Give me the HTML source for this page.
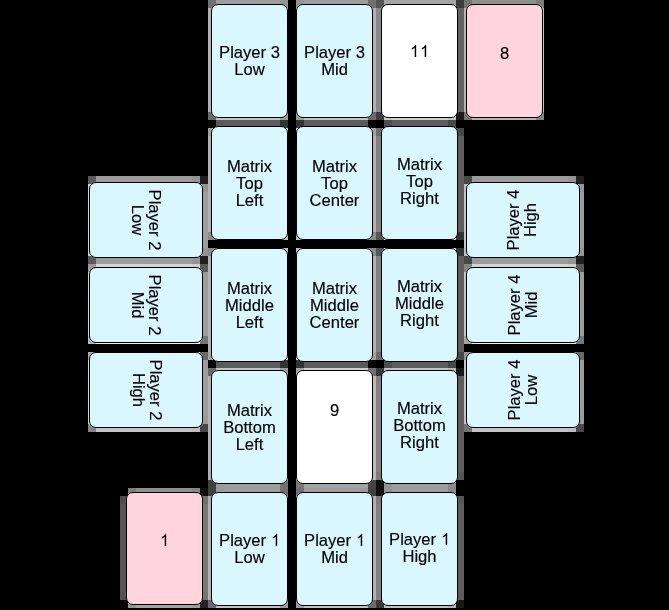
<!DOCTYPE html><html><head><meta charset="utf-8"><style>
html,body{margin:0;padding:0;background:#000;width:669px;height:610px;overflow:hidden;position:relative}
.c{position:absolute;box-sizing:border-box;border:1px solid #000;border-radius:7px;display:flex;align-items:center;justify-content:center;text-align:center;font-family:"Liberation Sans",sans-serif;font-size:16.6px;line-height:17px;color:#000;-webkit-text-stroke:0.15px #000;will-change:transform}
.bg{position:absolute;left:0;top:0}
.one{width:9.23px;height:12px;vertical-align:baseline;fill:#000}
</style></head><body><svg class="bg" width="669" height="610" shape-rendering="crispEdges"><rect x="208" y="0" width="8" height="8" fill="#717171"/><rect x="216" y="0" width="64" height="8" fill="#9c9c9c"/><rect x="280" y="0" width="8" height="8" fill="#939393"/><rect x="296" y="0" width="8" height="8" fill="#939393"/><rect x="304" y="0" width="64" height="8" fill="#9c9c9c"/><rect x="368" y="0" width="8" height="8" fill="#717171"/><rect x="376" y="0" width="8" height="8" fill="#565656"/><rect x="384" y="0" width="72" height="8" fill="#a5a5a5"/><rect x="456" y="0" width="8" height="8" fill="#3d3d3d"/><rect x="464" y="0" width="8" height="8" fill="#737373"/><rect x="472" y="0" width="64" height="8" fill="#8f8f8f"/><rect x="536" y="0" width="8" height="8" fill="#7e7e7e"/><rect x="208" y="8" width="8" height="8" fill="#b2b2b2"/><rect x="216" y="8" width="64" height="8" fill="#f2f2f2"/><rect x="280" y="8" width="8" height="8" fill="#e4e4e4"/><rect x="296" y="8" width="8" height="8" fill="#e4e4e4"/><rect x="304" y="8" width="64" height="8" fill="#f2f2f2"/><rect x="368" y="8" width="8" height="8" fill="#b2b2b2"/><rect x="376" y="8" width="8" height="8" fill="#898989"/><rect x="384" y="8" width="72" height="8" fill="#ffffff"/><rect x="456" y="8" width="8" height="8" fill="#636363"/><rect x="464" y="8" width="8" height="8" fill="#b5b5b5"/><rect x="472" y="8" width="64" height="8" fill="#dfdfdf"/><rect x="536" y="8" width="8" height="8" fill="#c4c4c4"/><rect x="208" y="16" width="8" height="8" fill="#b2b2b2"/><rect x="216" y="16" width="64" height="8" fill="#f2f2f2"/><rect x="280" y="16" width="8" height="8" fill="#e4e4e4"/><rect x="296" y="16" width="8" height="8" fill="#e4e4e4"/><rect x="304" y="16" width="64" height="8" fill="#f2f2f2"/><rect x="368" y="16" width="8" height="8" fill="#b2b2b2"/><rect x="376" y="16" width="8" height="8" fill="#898989"/><rect x="384" y="16" width="72" height="8" fill="#ffffff"/><rect x="456" y="16" width="8" height="8" fill="#636363"/><rect x="464" y="16" width="8" height="8" fill="#b5b5b5"/><rect x="472" y="16" width="64" height="8" fill="#dfdfdf"/><rect x="536" y="16" width="8" height="8" fill="#c4c4c4"/><rect x="208" y="24" width="8" height="8" fill="#b2b2b2"/><rect x="216" y="24" width="64" height="8" fill="#f2f2f2"/><rect x="280" y="24" width="8" height="8" fill="#e4e4e4"/><rect x="296" y="24" width="8" height="8" fill="#e4e4e4"/><rect x="304" y="24" width="64" height="8" fill="#f2f2f2"/><rect x="368" y="24" width="8" height="8" fill="#b2b2b2"/><rect x="376" y="24" width="8" height="8" fill="#898989"/><rect x="384" y="24" width="72" height="8" fill="#ffffff"/><rect x="456" y="24" width="8" height="8" fill="#636363"/><rect x="464" y="24" width="8" height="8" fill="#b5b5b5"/><rect x="472" y="24" width="64" height="8" fill="#dfdfdf"/><rect x="536" y="24" width="8" height="8" fill="#c4c4c4"/><rect x="208" y="32" width="8" height="8" fill="#b2b2b2"/><rect x="216" y="32" width="64" height="8" fill="#f2f2f2"/><rect x="280" y="32" width="8" height="8" fill="#e4e4e4"/><rect x="296" y="32" width="8" height="8" fill="#e4e4e4"/><rect x="304" y="32" width="64" height="8" fill="#f2f2f2"/><rect x="368" y="32" width="8" height="8" fill="#b2b2b2"/><rect x="376" y="32" width="8" height="8" fill="#898989"/><rect x="384" y="32" width="72" height="8" fill="#ffffff"/><rect x="456" y="32" width="8" height="8" fill="#636363"/><rect x="464" y="32" width="8" height="8" fill="#b5b5b5"/><rect x="472" y="32" width="64" height="8" fill="#dfdfdf"/><rect x="536" y="32" width="8" height="8" fill="#c4c4c4"/><rect x="208" y="40" width="8" height="8" fill="#b2b2b2"/><rect x="216" y="40" width="64" height="8" fill="#f2f2f2"/><rect x="280" y="40" width="8" height="8" fill="#e4e4e4"/><rect x="296" y="40" width="8" height="8" fill="#e4e4e4"/><rect x="304" y="40" width="64" height="8" fill="#f2f2f2"/><rect x="368" y="40" width="8" height="8" fill="#b2b2b2"/><rect x="376" y="40" width="8" height="8" fill="#898989"/><rect x="384" y="40" width="72" height="8" fill="#ffffff"/><rect x="456" y="40" width="8" height="8" fill="#636363"/><rect x="464" y="40" width="8" height="8" fill="#b5b5b5"/><rect x="472" y="40" width="64" height="8" fill="#dfdfdf"/><rect x="536" y="40" width="8" height="8" fill="#c4c4c4"/><rect x="208" y="48" width="8" height="8" fill="#b2b2b2"/><rect x="216" y="48" width="64" height="8" fill="#f2f2f2"/><rect x="280" y="48" width="8" height="8" fill="#e4e4e4"/><rect x="296" y="48" width="8" height="8" fill="#e4e4e4"/><rect x="304" y="48" width="64" height="8" fill="#f2f2f2"/><rect x="368" y="48" width="8" height="8" fill="#b2b2b2"/><rect x="376" y="48" width="8" height="8" fill="#898989"/><rect x="384" y="48" width="72" height="8" fill="#ffffff"/><rect x="456" y="48" width="8" height="8" fill="#636363"/><rect x="464" y="48" width="8" height="8" fill="#b5b5b5"/><rect x="472" y="48" width="64" height="8" fill="#dfdfdf"/><rect x="536" y="48" width="8" height="8" fill="#c4c4c4"/><rect x="208" y="56" width="8" height="8" fill="#b2b2b2"/><rect x="216" y="56" width="64" height="8" fill="#f2f2f2"/><rect x="280" y="56" width="8" height="8" fill="#e4e4e4"/><rect x="296" y="56" width="8" height="8" fill="#e4e4e4"/><rect x="304" y="56" width="64" height="8" fill="#f2f2f2"/><rect x="368" y="56" width="8" height="8" fill="#b2b2b2"/><rect x="376" y="56" width="8" height="8" fill="#898989"/><rect x="384" y="56" width="72" height="8" fill="#ffffff"/><rect x="456" y="56" width="8" height="8" fill="#636363"/><rect x="464" y="56" width="8" height="8" fill="#b5b5b5"/><rect x="472" y="56" width="64" height="8" fill="#dfdfdf"/><rect x="536" y="56" width="8" height="8" fill="#c4c4c4"/><rect x="208" y="64" width="8" height="8" fill="#b2b2b2"/><rect x="216" y="64" width="64" height="8" fill="#f2f2f2"/><rect x="280" y="64" width="8" height="8" fill="#e4e4e4"/><rect x="296" y="64" width="8" height="8" fill="#e4e4e4"/><rect x="304" y="64" width="64" height="8" fill="#f2f2f2"/><rect x="368" y="64" width="8" height="8" fill="#b2b2b2"/><rect x="376" y="64" width="8" height="8" fill="#898989"/><rect x="384" y="64" width="72" height="8" fill="#ffffff"/><rect x="456" y="64" width="8" height="8" fill="#636363"/><rect x="464" y="64" width="8" height="8" fill="#b5b5b5"/><rect x="472" y="64" width="64" height="8" fill="#dfdfdf"/><rect x="536" y="64" width="8" height="8" fill="#c4c4c4"/><rect x="208" y="72" width="8" height="8" fill="#b2b2b2"/><rect x="216" y="72" width="64" height="8" fill="#f2f2f2"/><rect x="280" y="72" width="8" height="8" fill="#e4e4e4"/><rect x="296" y="72" width="8" height="8" fill="#e4e4e4"/><rect x="304" y="72" width="64" height="8" fill="#f2f2f2"/><rect x="368" y="72" width="8" height="8" fill="#b2b2b2"/><rect x="376" y="72" width="8" height="8" fill="#898989"/><rect x="384" y="72" width="72" height="8" fill="#ffffff"/><rect x="456" y="72" width="8" height="8" fill="#636363"/><rect x="464" y="72" width="8" height="8" fill="#b5b5b5"/><rect x="472" y="72" width="64" height="8" fill="#dfdfdf"/><rect x="536" y="72" width="8" height="8" fill="#c4c4c4"/><rect x="208" y="80" width="8" height="8" fill="#b2b2b2"/><rect x="216" y="80" width="64" height="8" fill="#f2f2f2"/><rect x="280" y="80" width="8" height="8" fill="#e4e4e4"/><rect x="296" y="80" width="8" height="8" fill="#e4e4e4"/><rect x="304" y="80" width="64" height="8" fill="#f2f2f2"/><rect x="368" y="80" width="8" height="8" fill="#b2b2b2"/><rect x="376" y="80" width="8" height="8" fill="#898989"/><rect x="384" y="80" width="72" height="8" fill="#ffffff"/><rect x="456" y="80" width="8" height="8" fill="#636363"/><rect x="464" y="80" width="8" height="8" fill="#b5b5b5"/><rect x="472" y="80" width="64" height="8" fill="#dfdfdf"/><rect x="536" y="80" width="8" height="8" fill="#c4c4c4"/><rect x="208" y="88" width="8" height="8" fill="#b2b2b2"/><rect x="216" y="88" width="64" height="8" fill="#f2f2f2"/><rect x="280" y="88" width="8" height="8" fill="#e4e4e4"/><rect x="296" y="88" width="8" height="8" fill="#e4e4e4"/><rect x="304" y="88" width="64" height="8" fill="#f2f2f2"/><rect x="368" y="88" width="8" height="8" fill="#b2b2b2"/><rect x="376" y="88" width="8" height="8" fill="#898989"/><rect x="384" y="88" width="72" height="8" fill="#ffffff"/><rect x="456" y="88" width="8" height="8" fill="#636363"/><rect x="464" y="88" width="8" height="8" fill="#b5b5b5"/><rect x="472" y="88" width="64" height="8" fill="#dfdfdf"/><rect x="536" y="88" width="8" height="8" fill="#c4c4c4"/><rect x="208" y="96" width="8" height="8" fill="#b2b2b2"/><rect x="216" y="96" width="64" height="8" fill="#f2f2f2"/><rect x="280" y="96" width="8" height="8" fill="#e4e4e4"/><rect x="296" y="96" width="8" height="8" fill="#e4e4e4"/><rect x="304" y="96" width="64" height="8" fill="#f2f2f2"/><rect x="368" y="96" width="8" height="8" fill="#b2b2b2"/><rect x="376" y="96" width="8" height="8" fill="#898989"/><rect x="384" y="96" width="72" height="8" fill="#ffffff"/><rect x="456" y="96" width="8" height="8" fill="#636363"/><rect x="464" y="96" width="8" height="8" fill="#b5b5b5"/><rect x="472" y="96" width="64" height="8" fill="#dfdfdf"/><rect x="536" y="96" width="8" height="8" fill="#c4c4c4"/><rect x="208" y="104" width="8" height="8" fill="#b1b1b1"/><rect x="216" y="104" width="64" height="8" fill="#f2f2f2"/><rect x="280" y="104" width="8" height="8" fill="#e4e4e4"/><rect x="296" y="104" width="8" height="8" fill="#e4e4e4"/><rect x="304" y="104" width="64" height="8" fill="#f2f2f2"/><rect x="368" y="104" width="8" height="8" fill="#b1b1b1"/><rect x="376" y="104" width="8" height="8" fill="#888888"/><rect x="384" y="104" width="72" height="8" fill="#ffffff"/><rect x="456" y="104" width="8" height="8" fill="#626262"/><rect x="464" y="104" width="8" height="8" fill="#b4b4b4"/><rect x="472" y="104" width="64" height="8" fill="#dfdfdf"/><rect x="536" y="104" width="8" height="8" fill="#c4c4c4"/><rect x="208" y="112" width="8" height="8" fill="#6a6a6a"/><rect x="216" y="112" width="8" height="8" fill="#c3c3c3"/><rect x="224" y="112" width="56" height="8" fill="#c4c4c4"/><rect x="280" y="112" width="8" height="8" fill="#9e9e9e"/><rect x="296" y="112" width="8" height="8" fill="#9e9e9e"/><rect x="304" y="112" width="56" height="8" fill="#c4c4c4"/><rect x="360" y="112" width="8" height="8" fill="#c3c3c3"/><rect x="368" y="112" width="8" height="8" fill="#6a6a6a"/><rect x="376" y="112" width="8" height="8" fill="#3d3d3d"/><rect x="384" y="112" width="8" height="8" fill="#c8c8c8"/><rect x="392" y="112" width="56" height="8" fill="#cfcfcf"/><rect x="448" y="112" width="8" height="8" fill="#c1c1c1"/><rect x="456" y="112" width="8" height="8" fill="#1b1b1b"/><rect x="464" y="112" width="8" height="8" fill="#737373"/><rect x="472" y="112" width="8" height="8" fill="#b4b4b4"/><rect x="480" y="112" width="56" height="8" fill="#b5b5b5"/><rect x="536" y="112" width="8" height="8" fill="#838383"/><rect x="208" y="120" width="8" height="8" fill="#060606"/><rect x="216" y="120" width="8" height="8" fill="#5a5a5a"/><rect x="224" y="120" width="56" height="8" fill="#5e5e5e"/><rect x="280" y="120" width="8" height="8" fill="#343434"/><rect x="296" y="120" width="8" height="8" fill="#343434"/><rect x="304" y="120" width="56" height="8" fill="#5e5e5e"/><rect x="360" y="120" width="8" height="8" fill="#5a5a5a"/><rect x="368" y="120" width="8" height="8" fill="#060606"/><rect x="384" y="120" width="8" height="8" fill="#4e4e4e"/><rect x="392" y="120" width="56" height="8" fill="#5e5e5e"/><rect x="448" y="120" width="8" height="8" fill="#474747"/><rect x="208" y="128" width="8" height="8" fill="#a2a2a2"/><rect x="216" y="128" width="64" height="8" fill="#f2f2f2"/><rect x="280" y="128" width="8" height="8" fill="#d9d9d9"/><rect x="296" y="128" width="8" height="8" fill="#d9d9d9"/><rect x="304" y="128" width="64" height="8" fill="#f2f2f2"/><rect x="368" y="128" width="8" height="8" fill="#a2a2a2"/><rect x="376" y="128" width="8" height="8" fill="#6c6c6c"/><rect x="384" y="128" width="8" height="8" fill="#f1f1f1"/><rect x="392" y="128" width="56" height="8" fill="#f2f2f2"/><rect x="448" y="128" width="8" height="8" fill="#eeeeee"/><rect x="456" y="128" width="8" height="8" fill="#474747"/><rect x="208" y="136" width="8" height="8" fill="#b2b2b2"/><rect x="216" y="136" width="64" height="8" fill="#f2f2f2"/><rect x="280" y="136" width="8" height="8" fill="#e4e4e4"/><rect x="296" y="136" width="8" height="8" fill="#e4e4e4"/><rect x="304" y="136" width="64" height="8" fill="#f2f2f2"/><rect x="368" y="136" width="8" height="8" fill="#b2b2b2"/><rect x="376" y="136" width="8" height="8" fill="#828282"/><rect x="384" y="136" width="72" height="8" fill="#f2f2f2"/><rect x="456" y="136" width="8" height="8" fill="#5e5e5e"/><rect x="208" y="144" width="8" height="8" fill="#b2b2b2"/><rect x="216" y="144" width="64" height="8" fill="#f2f2f2"/><rect x="280" y="144" width="8" height="8" fill="#e4e4e4"/><rect x="296" y="144" width="8" height="8" fill="#e4e4e4"/><rect x="304" y="144" width="64" height="8" fill="#f2f2f2"/><rect x="368" y="144" width="8" height="8" fill="#b2b2b2"/><rect x="376" y="144" width="8" height="8" fill="#828282"/><rect x="384" y="144" width="72" height="8" fill="#f2f2f2"/><rect x="456" y="144" width="8" height="8" fill="#5e5e5e"/><rect x="208" y="152" width="8" height="8" fill="#b2b2b2"/><rect x="216" y="152" width="64" height="8" fill="#f2f2f2"/><rect x="280" y="152" width="8" height="8" fill="#e4e4e4"/><rect x="296" y="152" width="8" height="8" fill="#e4e4e4"/><rect x="304" y="152" width="64" height="8" fill="#f2f2f2"/><rect x="368" y="152" width="8" height="8" fill="#b2b2b2"/><rect x="376" y="152" width="8" height="8" fill="#828282"/><rect x="384" y="152" width="72" height="8" fill="#f2f2f2"/><rect x="456" y="152" width="8" height="8" fill="#5e5e5e"/><rect x="208" y="160" width="8" height="8" fill="#b2b2b2"/><rect x="216" y="160" width="64" height="8" fill="#f2f2f2"/><rect x="280" y="160" width="8" height="8" fill="#e4e4e4"/><rect x="296" y="160" width="8" height="8" fill="#e4e4e4"/><rect x="304" y="160" width="64" height="8" fill="#f2f2f2"/><rect x="368" y="160" width="8" height="8" fill="#b2b2b2"/><rect x="376" y="160" width="8" height="8" fill="#828282"/><rect x="384" y="160" width="72" height="8" fill="#f2f2f2"/><rect x="456" y="160" width="8" height="8" fill="#5e5e5e"/><rect x="208" y="168" width="8" height="8" fill="#b2b2b2"/><rect x="216" y="168" width="64" height="8" fill="#f2f2f2"/><rect x="280" y="168" width="8" height="8" fill="#e4e4e4"/><rect x="296" y="168" width="8" height="8" fill="#e4e4e4"/><rect x="304" y="168" width="64" height="8" fill="#f2f2f2"/><rect x="368" y="168" width="8" height="8" fill="#b2b2b2"/><rect x="376" y="168" width="8" height="8" fill="#828282"/><rect x="384" y="168" width="72" height="8" fill="#f2f2f2"/><rect x="456" y="168" width="8" height="8" fill="#5e5e5e"/><rect x="88" y="176" width="8" height="8" fill="#5a5a5a"/><rect x="96" y="176" width="96" height="8" fill="#9c9c9c"/><rect x="192" y="176" width="8" height="8" fill="#949494"/><rect x="200" y="176" width="8" height="8" fill="#1e1e1e"/><rect x="208" y="176" width="8" height="8" fill="#b2b2b2"/><rect x="216" y="176" width="64" height="8" fill="#f2f2f2"/><rect x="280" y="176" width="8" height="8" fill="#e4e4e4"/><rect x="296" y="176" width="8" height="8" fill="#e4e4e4"/><rect x="304" y="176" width="64" height="8" fill="#f2f2f2"/><rect x="368" y="176" width="8" height="8" fill="#b2b2b2"/><rect x="376" y="176" width="8" height="8" fill="#828282"/><rect x="384" y="176" width="72" height="8" fill="#f2f2f2"/><rect x="456" y="176" width="8" height="8" fill="#5e5e5e"/><rect x="464" y="176" width="8" height="8" fill="#484848"/><rect x="472" y="176" width="8" height="8" fill="#9b9b9b"/><rect x="480" y="176" width="88" height="8" fill="#9c9c9c"/><rect x="568" y="176" width="8" height="8" fill="#949494"/><rect x="576" y="176" width="8" height="8" fill="#1e1e1e"/><rect x="88" y="184" width="8" height="8" fill="#cfcfcf"/><rect x="96" y="184" width="104" height="8" fill="#f2f2f2"/><rect x="200" y="184" width="8" height="8" fill="#949494"/><rect x="208" y="184" width="8" height="8" fill="#b2b2b2"/><rect x="216" y="184" width="64" height="8" fill="#f2f2f2"/><rect x="280" y="184" width="8" height="8" fill="#e4e4e4"/><rect x="296" y="184" width="8" height="8" fill="#e4e4e4"/><rect x="304" y="184" width="64" height="8" fill="#f2f2f2"/><rect x="368" y="184" width="8" height="8" fill="#b2b2b2"/><rect x="376" y="184" width="8" height="8" fill="#828282"/><rect x="384" y="184" width="72" height="8" fill="#f2f2f2"/><rect x="456" y="184" width="8" height="8" fill="#5e5e5e"/><rect x="464" y="184" width="8" height="8" fill="#bebebe"/><rect x="472" y="184" width="104" height="8" fill="#f2f2f2"/><rect x="576" y="184" width="8" height="8" fill="#949494"/><rect x="88" y="192" width="8" height="8" fill="#d5d5d5"/><rect x="96" y="192" width="104" height="8" fill="#f2f2f2"/><rect x="200" y="192" width="8" height="8" fill="#9c9c9c"/><rect x="208" y="192" width="8" height="8" fill="#b2b2b2"/><rect x="216" y="192" width="64" height="8" fill="#f2f2f2"/><rect x="280" y="192" width="8" height="8" fill="#e4e4e4"/><rect x="296" y="192" width="8" height="8" fill="#e4e4e4"/><rect x="304" y="192" width="64" height="8" fill="#f2f2f2"/><rect x="368" y="192" width="8" height="8" fill="#b2b2b2"/><rect x="376" y="192" width="8" height="8" fill="#828282"/><rect x="384" y="192" width="72" height="8" fill="#f2f2f2"/><rect x="456" y="192" width="8" height="8" fill="#5e5e5e"/><rect x="464" y="192" width="8" height="8" fill="#c4c4c4"/><rect x="472" y="192" width="104" height="8" fill="#f2f2f2"/><rect x="576" y="192" width="8" height="8" fill="#9c9c9c"/><rect x="88" y="200" width="8" height="8" fill="#d5d5d5"/><rect x="96" y="200" width="104" height="8" fill="#f2f2f2"/><rect x="200" y="200" width="8" height="8" fill="#9c9c9c"/><rect x="208" y="200" width="8" height="8" fill="#b2b2b2"/><rect x="216" y="200" width="64" height="8" fill="#f2f2f2"/><rect x="280" y="200" width="8" height="8" fill="#e4e4e4"/><rect x="296" y="200" width="8" height="8" fill="#e4e4e4"/><rect x="304" y="200" width="64" height="8" fill="#f2f2f2"/><rect x="368" y="200" width="8" height="8" fill="#b2b2b2"/><rect x="376" y="200" width="8" height="8" fill="#828282"/><rect x="384" y="200" width="72" height="8" fill="#f2f2f2"/><rect x="456" y="200" width="8" height="8" fill="#5e5e5e"/><rect x="464" y="200" width="8" height="8" fill="#c4c4c4"/><rect x="472" y="200" width="104" height="8" fill="#f2f2f2"/><rect x="576" y="200" width="8" height="8" fill="#9c9c9c"/><rect x="88" y="208" width="8" height="8" fill="#d5d5d5"/><rect x="96" y="208" width="104" height="8" fill="#f2f2f2"/><rect x="200" y="208" width="8" height="8" fill="#9c9c9c"/><rect x="208" y="208" width="8" height="8" fill="#b2b2b2"/><rect x="216" y="208" width="64" height="8" fill="#f2f2f2"/><rect x="280" y="208" width="8" height="8" fill="#e4e4e4"/><rect x="296" y="208" width="8" height="8" fill="#e4e4e4"/><rect x="304" y="208" width="64" height="8" fill="#f2f2f2"/><rect x="368" y="208" width="8" height="8" fill="#b2b2b2"/><rect x="376" y="208" width="8" height="8" fill="#828282"/><rect x="384" y="208" width="72" height="8" fill="#f2f2f2"/><rect x="456" y="208" width="8" height="8" fill="#5e5e5e"/><rect x="464" y="208" width="8" height="8" fill="#c4c4c4"/><rect x="472" y="208" width="104" height="8" fill="#f2f2f2"/><rect x="576" y="208" width="8" height="8" fill="#9c9c9c"/><rect x="88" y="216" width="8" height="8" fill="#d5d5d5"/><rect x="96" y="216" width="104" height="8" fill="#f2f2f2"/><rect x="200" y="216" width="8" height="8" fill="#9c9c9c"/><rect x="208" y="216" width="8" height="8" fill="#b2b2b2"/><rect x="216" y="216" width="64" height="8" fill="#f2f2f2"/><rect x="280" y="216" width="8" height="8" fill="#e4e4e4"/><rect x="296" y="216" width="8" height="8" fill="#e4e4e4"/><rect x="304" y="216" width="64" height="8" fill="#f2f2f2"/><rect x="368" y="216" width="8" height="8" fill="#b2b2b2"/><rect x="376" y="216" width="8" height="8" fill="#828282"/><rect x="384" y="216" width="72" height="8" fill="#f2f2f2"/><rect x="456" y="216" width="8" height="8" fill="#5e5e5e"/><rect x="464" y="216" width="8" height="8" fill="#c4c4c4"/><rect x="472" y="216" width="104" height="8" fill="#f2f2f2"/><rect x="576" y="216" width="8" height="8" fill="#9c9c9c"/><rect x="88" y="224" width="8" height="8" fill="#d5d5d5"/><rect x="96" y="224" width="104" height="8" fill="#f2f2f2"/><rect x="200" y="224" width="8" height="8" fill="#9c9c9c"/><rect x="208" y="224" width="8" height="8" fill="#b2b2b2"/><rect x="216" y="224" width="64" height="8" fill="#f2f2f2"/><rect x="280" y="224" width="8" height="8" fill="#e4e4e4"/><rect x="296" y="224" width="8" height="8" fill="#e4e4e4"/><rect x="304" y="224" width="64" height="8" fill="#f2f2f2"/><rect x="368" y="224" width="8" height="8" fill="#b2b2b2"/><rect x="376" y="224" width="8" height="8" fill="#828282"/><rect x="384" y="224" width="72" height="8" fill="#f2f2f2"/><rect x="456" y="224" width="8" height="8" fill="#5e5e5e"/><rect x="464" y="224" width="8" height="8" fill="#c4c4c4"/><rect x="472" y="224" width="104" height="8" fill="#f2f2f2"/><rect x="576" y="224" width="8" height="8" fill="#9c9c9c"/><rect x="88" y="232" width="8" height="8" fill="#d5d5d5"/><rect x="96" y="232" width="104" height="8" fill="#f2f2f2"/><rect x="200" y="232" width="8" height="8" fill="#9c9c9c"/><rect x="208" y="232" width="8" height="8" fill="#8a8a8a"/><rect x="216" y="232" width="8" height="8" fill="#e3e3e3"/><rect x="224" y="232" width="56" height="8" fill="#e4e4e4"/><rect x="280" y="232" width="8" height="8" fill="#c1c1c1"/><rect x="296" y="232" width="8" height="8" fill="#c1c1c1"/><rect x="304" y="232" width="56" height="8" fill="#e4e4e4"/><rect x="360" y="232" width="8" height="8" fill="#e3e3e3"/><rect x="368" y="232" width="8" height="8" fill="#8a8a8a"/><rect x="376" y="232" width="8" height="8" fill="#575757"/><rect x="384" y="232" width="8" height="8" fill="#dedede"/><rect x="392" y="232" width="56" height="8" fill="#e4e4e4"/><rect x="448" y="232" width="8" height="8" fill="#d9d9d9"/><rect x="456" y="232" width="8" height="8" fill="#343434"/><rect x="464" y="232" width="8" height="8" fill="#c4c4c4"/><rect x="472" y="232" width="104" height="8" fill="#f2f2f2"/><rect x="576" y="232" width="8" height="8" fill="#9c9c9c"/><rect x="88" y="240" width="8" height="8" fill="#d5d5d5"/><rect x="96" y="240" width="104" height="8" fill="#f2f2f2"/><rect x="200" y="240" width="8" height="8" fill="#9c9c9c"/><rect x="464" y="240" width="8" height="8" fill="#c4c4c4"/><rect x="472" y="240" width="104" height="8" fill="#f2f2f2"/><rect x="576" y="240" width="8" height="8" fill="#9c9c9c"/><rect x="88" y="248" width="8" height="8" fill="#cfcfcf"/><rect x="96" y="248" width="104" height="8" fill="#f2f2f2"/><rect x="200" y="248" width="8" height="8" fill="#949494"/><rect x="208" y="248" width="8" height="8" fill="#8a8a8a"/><rect x="216" y="248" width="8" height="8" fill="#e3e3e3"/><rect x="224" y="248" width="56" height="8" fill="#e4e4e4"/><rect x="280" y="248" width="8" height="8" fill="#c1c1c1"/><rect x="296" y="248" width="8" height="8" fill="#c1c1c1"/><rect x="304" y="248" width="56" height="8" fill="#e4e4e4"/><rect x="360" y="248" width="8" height="8" fill="#e3e3e3"/><rect x="368" y="248" width="8" height="8" fill="#8a8a8a"/><rect x="376" y="248" width="8" height="8" fill="#575757"/><rect x="384" y="248" width="8" height="8" fill="#dedede"/><rect x="392" y="248" width="56" height="8" fill="#e4e4e4"/><rect x="448" y="248" width="8" height="8" fill="#d9d9d9"/><rect x="456" y="248" width="8" height="8" fill="#343434"/><rect x="464" y="248" width="8" height="8" fill="#bebebe"/><rect x="472" y="248" width="104" height="8" fill="#f2f2f2"/><rect x="576" y="248" width="8" height="8" fill="#949494"/><rect x="88" y="256" width="8" height="8" fill="#5a5a5a"/><rect x="96" y="256" width="96" height="8" fill="#9c9c9c"/><rect x="192" y="256" width="8" height="8" fill="#949494"/><rect x="200" y="256" width="8" height="8" fill="#1e1e1e"/><rect x="208" y="256" width="8" height="8" fill="#b2b2b2"/><rect x="216" y="256" width="64" height="8" fill="#f2f2f2"/><rect x="280" y="256" width="8" height="8" fill="#e4e4e4"/><rect x="296" y="256" width="8" height="8" fill="#e4e4e4"/><rect x="304" y="256" width="64" height="8" fill="#f2f2f2"/><rect x="368" y="256" width="8" height="8" fill="#b2b2b2"/><rect x="376" y="256" width="8" height="8" fill="#828282"/><rect x="384" y="256" width="72" height="8" fill="#f2f2f2"/><rect x="456" y="256" width="8" height="8" fill="#5e5e5e"/><rect x="464" y="256" width="8" height="8" fill="#484848"/><rect x="472" y="256" width="8" height="8" fill="#9b9b9b"/><rect x="480" y="256" width="88" height="8" fill="#9c9c9c"/><rect x="568" y="256" width="8" height="8" fill="#949494"/><rect x="576" y="256" width="8" height="8" fill="#1e1e1e"/><rect x="88" y="264" width="8" height="8" fill="#989898"/><rect x="96" y="264" width="96" height="8" fill="#d5d5d5"/><rect x="192" y="264" width="8" height="8" fill="#cfcfcf"/><rect x="200" y="264" width="8" height="8" fill="#5a5a5a"/><rect x="208" y="264" width="8" height="8" fill="#b2b2b2"/><rect x="216" y="264" width="64" height="8" fill="#f2f2f2"/><rect x="280" y="264" width="8" height="8" fill="#e4e4e4"/><rect x="296" y="264" width="8" height="8" fill="#e4e4e4"/><rect x="304" y="264" width="64" height="8" fill="#f2f2f2"/><rect x="368" y="264" width="8" height="8" fill="#b2b2b2"/><rect x="376" y="264" width="8" height="8" fill="#828282"/><rect x="384" y="264" width="72" height="8" fill="#f2f2f2"/><rect x="456" y="264" width="8" height="8" fill="#5e5e5e"/><rect x="464" y="264" width="8" height="8" fill="#858585"/><rect x="472" y="264" width="8" height="8" fill="#d4d4d4"/><rect x="480" y="264" width="88" height="8" fill="#d5d5d5"/><rect x="568" y="264" width="8" height="8" fill="#cfcfcf"/><rect x="576" y="264" width="8" height="8" fill="#5a5a5a"/><rect x="88" y="272" width="8" height="8" fill="#d5d5d5"/><rect x="96" y="272" width="104" height="8" fill="#f2f2f2"/><rect x="200" y="272" width="8" height="8" fill="#9c9c9c"/><rect x="208" y="272" width="8" height="8" fill="#b2b2b2"/><rect x="216" y="272" width="64" height="8" fill="#f2f2f2"/><rect x="280" y="272" width="8" height="8" fill="#e4e4e4"/><rect x="296" y="272" width="8" height="8" fill="#e4e4e4"/><rect x="304" y="272" width="64" height="8" fill="#f2f2f2"/><rect x="368" y="272" width="8" height="8" fill="#b2b2b2"/><rect x="376" y="272" width="8" height="8" fill="#828282"/><rect x="384" y="272" width="72" height="8" fill="#f2f2f2"/><rect x="456" y="272" width="8" height="8" fill="#5e5e5e"/><rect x="464" y="272" width="8" height="8" fill="#c4c4c4"/><rect x="472" y="272" width="104" height="8" fill="#f2f2f2"/><rect x="576" y="272" width="8" height="8" fill="#9c9c9c"/><rect x="88" y="280" width="8" height="8" fill="#d5d5d5"/><rect x="96" y="280" width="104" height="8" fill="#f2f2f2"/><rect x="200" y="280" width="8" height="8" fill="#9c9c9c"/><rect x="208" y="280" width="8" height="8" fill="#b2b2b2"/><rect x="216" y="280" width="64" height="8" fill="#f2f2f2"/><rect x="280" y="280" width="8" height="8" fill="#e4e4e4"/><rect x="296" y="280" width="8" height="8" fill="#e4e4e4"/><rect x="304" y="280" width="64" height="8" fill="#f2f2f2"/><rect x="368" y="280" width="8" height="8" fill="#b2b2b2"/><rect x="376" y="280" width="8" height="8" fill="#828282"/><rect x="384" y="280" width="72" height="8" fill="#f2f2f2"/><rect x="456" y="280" width="8" height="8" fill="#5e5e5e"/><rect x="464" y="280" width="8" height="8" fill="#c4c4c4"/><rect x="472" y="280" width="104" height="8" fill="#f2f2f2"/><rect x="576" y="280" width="8" height="8" fill="#9c9c9c"/><rect x="88" y="288" width="8" height="8" fill="#d5d5d5"/><rect x="96" y="288" width="104" height="8" fill="#f2f2f2"/><rect x="200" y="288" width="8" height="8" fill="#9c9c9c"/><rect x="208" y="288" width="8" height="8" fill="#b2b2b2"/><rect x="216" y="288" width="64" height="8" fill="#f2f2f2"/><rect x="280" y="288" width="8" height="8" fill="#e4e4e4"/><rect x="296" y="288" width="8" height="8" fill="#e4e4e4"/><rect x="304" y="288" width="64" height="8" fill="#f2f2f2"/><rect x="368" y="288" width="8" height="8" fill="#b2b2b2"/><rect x="376" y="288" width="8" height="8" fill="#828282"/><rect x="384" y="288" width="72" height="8" fill="#f2f2f2"/><rect x="456" y="288" width="8" height="8" fill="#5e5e5e"/><rect x="464" y="288" width="8" height="8" fill="#c4c4c4"/><rect x="472" y="288" width="104" height="8" fill="#f2f2f2"/><rect x="576" y="288" width="8" height="8" fill="#9c9c9c"/><rect x="88" y="296" width="8" height="8" fill="#d5d5d5"/><rect x="96" y="296" width="104" height="8" fill="#f2f2f2"/><rect x="200" y="296" width="8" height="8" fill="#9c9c9c"/><rect x="208" y="296" width="8" height="8" fill="#b2b2b2"/><rect x="216" y="296" width="64" height="8" fill="#f2f2f2"/><rect x="280" y="296" width="8" height="8" fill="#e4e4e4"/><rect x="296" y="296" width="8" height="8" fill="#e4e4e4"/><rect x="304" y="296" width="64" height="8" fill="#f2f2f2"/><rect x="368" y="296" width="8" height="8" fill="#b2b2b2"/><rect x="376" y="296" width="8" height="8" fill="#828282"/><rect x="384" y="296" width="72" height="8" fill="#f2f2f2"/><rect x="456" y="296" width="8" height="8" fill="#5e5e5e"/><rect x="464" y="296" width="8" height="8" fill="#c4c4c4"/><rect x="472" y="296" width="104" height="8" fill="#f2f2f2"/><rect x="576" y="296" width="8" height="8" fill="#9c9c9c"/><rect x="88" y="304" width="8" height="8" fill="#d5d5d5"/><rect x="96" y="304" width="104" height="8" fill="#f2f2f2"/><rect x="200" y="304" width="8" height="8" fill="#9c9c9c"/><rect x="208" y="304" width="8" height="8" fill="#b2b2b2"/><rect x="216" y="304" width="64" height="8" fill="#f2f2f2"/><rect x="280" y="304" width="8" height="8" fill="#e4e4e4"/><rect x="296" y="304" width="8" height="8" fill="#e4e4e4"/><rect x="304" y="304" width="64" height="8" fill="#f2f2f2"/><rect x="368" y="304" width="8" height="8" fill="#b2b2b2"/><rect x="376" y="304" width="8" height="8" fill="#828282"/><rect x="384" y="304" width="72" height="8" fill="#f2f2f2"/><rect x="456" y="304" width="8" height="8" fill="#5e5e5e"/><rect x="464" y="304" width="8" height="8" fill="#c4c4c4"/><rect x="472" y="304" width="104" height="8" fill="#f2f2f2"/><rect x="576" y="304" width="8" height="8" fill="#9c9c9c"/><rect x="88" y="312" width="8" height="8" fill="#d5d5d5"/><rect x="96" y="312" width="104" height="8" fill="#f2f2f2"/><rect x="200" y="312" width="8" height="8" fill="#9c9c9c"/><rect x="208" y="312" width="8" height="8" fill="#b2b2b2"/><rect x="216" y="312" width="64" height="8" fill="#f2f2f2"/><rect x="280" y="312" width="8" height="8" fill="#e4e4e4"/><rect x="296" y="312" width="8" height="8" fill="#e4e4e4"/><rect x="304" y="312" width="64" height="8" fill="#f2f2f2"/><rect x="368" y="312" width="8" height="8" fill="#b2b2b2"/><rect x="376" y="312" width="8" height="8" fill="#828282"/><rect x="384" y="312" width="72" height="8" fill="#f2f2f2"/><rect x="456" y="312" width="8" height="8" fill="#5e5e5e"/><rect x="464" y="312" width="8" height="8" fill="#c4c4c4"/><rect x="472" y="312" width="104" height="8" fill="#f2f2f2"/><rect x="576" y="312" width="8" height="8" fill="#9c9c9c"/><rect x="88" y="320" width="8" height="8" fill="#d5d5d5"/><rect x="96" y="320" width="104" height="8" fill="#f2f2f2"/><rect x="200" y="320" width="8" height="8" fill="#9c9c9c"/><rect x="208" y="320" width="8" height="8" fill="#b2b2b2"/><rect x="216" y="320" width="64" height="8" fill="#f2f2f2"/><rect x="280" y="320" width="8" height="8" fill="#e4e4e4"/><rect x="296" y="320" width="8" height="8" fill="#e4e4e4"/><rect x="304" y="320" width="64" height="8" fill="#f2f2f2"/><rect x="368" y="320" width="8" height="8" fill="#b2b2b2"/><rect x="376" y="320" width="8" height="8" fill="#828282"/><rect x="384" y="320" width="72" height="8" fill="#f2f2f2"/><rect x="456" y="320" width="8" height="8" fill="#5e5e5e"/><rect x="464" y="320" width="8" height="8" fill="#c4c4c4"/><rect x="472" y="320" width="104" height="8" fill="#f2f2f2"/><rect x="576" y="320" width="8" height="8" fill="#9c9c9c"/><rect x="88" y="328" width="8" height="8" fill="#d5d5d5"/><rect x="96" y="328" width="104" height="8" fill="#f2f2f2"/><rect x="200" y="328" width="8" height="8" fill="#9c9c9c"/><rect x="208" y="328" width="8" height="8" fill="#b2b2b2"/><rect x="216" y="328" width="64" height="8" fill="#f2f2f2"/><rect x="280" y="328" width="8" height="8" fill="#e4e4e4"/><rect x="296" y="328" width="8" height="8" fill="#e4e4e4"/><rect x="304" y="328" width="64" height="8" fill="#f2f2f2"/><rect x="368" y="328" width="8" height="8" fill="#b2b2b2"/><rect x="376" y="328" width="8" height="8" fill="#828282"/><rect x="384" y="328" width="72" height="8" fill="#f2f2f2"/><rect x="456" y="328" width="8" height="8" fill="#5e5e5e"/><rect x="464" y="328" width="8" height="8" fill="#c4c4c4"/><rect x="472" y="328" width="104" height="8" fill="#f2f2f2"/><rect x="576" y="328" width="8" height="8" fill="#9c9c9c"/><rect x="88" y="336" width="8" height="8" fill="#b8b8b8"/><rect x="96" y="336" width="96" height="8" fill="#f2f2f2"/><rect x="192" y="336" width="8" height="8" fill="#ededed"/><rect x="200" y="336" width="8" height="8" fill="#767676"/><rect x="208" y="336" width="8" height="8" fill="#b2b2b2"/><rect x="216" y="336" width="64" height="8" fill="#f2f2f2"/><rect x="280" y="336" width="8" height="8" fill="#e4e4e4"/><rect x="296" y="336" width="8" height="8" fill="#e4e4e4"/><rect x="304" y="336" width="64" height="8" fill="#f2f2f2"/><rect x="368" y="336" width="8" height="8" fill="#b2b2b2"/><rect x="376" y="336" width="8" height="8" fill="#828282"/><rect x="384" y="336" width="72" height="8" fill="#f2f2f2"/><rect x="456" y="336" width="8" height="8" fill="#5e5e5e"/><rect x="464" y="336" width="8" height="8" fill="#a4a4a4"/><rect x="472" y="336" width="8" height="8" fill="#f1f1f1"/><rect x="480" y="336" width="88" height="8" fill="#f2f2f2"/><rect x="568" y="336" width="8" height="8" fill="#ededed"/><rect x="576" y="336" width="8" height="8" fill="#767676"/><rect x="208" y="344" width="8" height="8" fill="#b2b2b2"/><rect x="216" y="344" width="64" height="8" fill="#f2f2f2"/><rect x="280" y="344" width="8" height="8" fill="#e4e4e4"/><rect x="296" y="344" width="8" height="8" fill="#e4e4e4"/><rect x="304" y="344" width="64" height="8" fill="#f2f2f2"/><rect x="368" y="344" width="8" height="8" fill="#b2b2b2"/><rect x="376" y="344" width="8" height="8" fill="#828282"/><rect x="384" y="344" width="72" height="8" fill="#f2f2f2"/><rect x="456" y="344" width="8" height="8" fill="#5e5e5e"/><rect x="88" y="352" width="8" height="8" fill="#a9a9a9"/><rect x="96" y="352" width="96" height="8" fill="#e4e4e4"/><rect x="192" y="352" width="8" height="8" fill="#dfdfdf"/><rect x="200" y="352" width="8" height="8" fill="#696969"/><rect x="208" y="352" width="8" height="8" fill="#a2a2a2"/><rect x="216" y="352" width="64" height="8" fill="#f2f2f2"/><rect x="280" y="352" width="8" height="8" fill="#d9d9d9"/><rect x="296" y="352" width="8" height="8" fill="#d9d9d9"/><rect x="304" y="352" width="64" height="8" fill="#f2f2f2"/><rect x="368" y="352" width="8" height="8" fill="#a2a2a2"/><rect x="376" y="352" width="8" height="8" fill="#6c6c6c"/><rect x="384" y="352" width="8" height="8" fill="#f1f1f1"/><rect x="392" y="352" width="56" height="8" fill="#f2f2f2"/><rect x="448" y="352" width="8" height="8" fill="#eeeeee"/><rect x="456" y="352" width="8" height="8" fill="#474747"/><rect x="464" y="352" width="8" height="8" fill="#969696"/><rect x="472" y="352" width="8" height="8" fill="#e3e3e3"/><rect x="480" y="352" width="88" height="8" fill="#e4e4e4"/><rect x="568" y="352" width="8" height="8" fill="#dfdfdf"/><rect x="576" y="352" width="8" height="8" fill="#696969"/><rect x="88" y="360" width="8" height="8" fill="#d5d5d5"/><rect x="96" y="360" width="104" height="8" fill="#f2f2f2"/><rect x="200" y="360" width="8" height="8" fill="#9c9c9c"/><rect x="208" y="360" width="8" height="8" fill="#060606"/><rect x="216" y="360" width="8" height="8" fill="#5a5a5a"/><rect x="224" y="360" width="56" height="8" fill="#5e5e5e"/><rect x="280" y="360" width="8" height="8" fill="#343434"/><rect x="296" y="360" width="8" height="8" fill="#343434"/><rect x="304" y="360" width="56" height="8" fill="#5e5e5e"/><rect x="360" y="360" width="8" height="8" fill="#5a5a5a"/><rect x="368" y="360" width="8" height="8" fill="#060606"/><rect x="384" y="360" width="8" height="8" fill="#4e4e4e"/><rect x="392" y="360" width="56" height="8" fill="#5e5e5e"/><rect x="448" y="360" width="8" height="8" fill="#474747"/><rect x="464" y="360" width="8" height="8" fill="#c4c4c4"/><rect x="472" y="360" width="104" height="8" fill="#f2f2f2"/><rect x="576" y="360" width="8" height="8" fill="#9c9c9c"/><rect x="88" y="368" width="8" height="8" fill="#d5d5d5"/><rect x="96" y="368" width="104" height="8" fill="#f2f2f2"/><rect x="200" y="368" width="8" height="8" fill="#9c9c9c"/><rect x="208" y="368" width="8" height="8" fill="#6a6a6a"/><rect x="216" y="368" width="8" height="8" fill="#c3c3c3"/><rect x="224" y="368" width="56" height="8" fill="#c4c4c4"/><rect x="280" y="368" width="8" height="8" fill="#9e9e9e"/><rect x="296" y="368" width="8" height="8" fill="#a7a7a7"/><rect x="304" y="368" width="56" height="8" fill="#cfcfcf"/><rect x="360" y="368" width="8" height="8" fill="#cecece"/><rect x="368" y="368" width="8" height="8" fill="#707070"/><rect x="376" y="368" width="8" height="8" fill="#393939"/><rect x="384" y="368" width="8" height="8" fill="#bdbdbd"/><rect x="392" y="368" width="56" height="8" fill="#c4c4c4"/><rect x="448" y="368" width="8" height="8" fill="#b7b7b7"/><rect x="456" y="368" width="8" height="8" fill="#191919"/><rect x="464" y="368" width="8" height="8" fill="#c4c4c4"/><rect x="472" y="368" width="104" height="8" fill="#f2f2f2"/><rect x="576" y="368" width="8" height="8" fill="#9c9c9c"/><rect x="88" y="376" width="8" height="8" fill="#d5d5d5"/><rect x="96" y="376" width="104" height="8" fill="#f2f2f2"/><rect x="200" y="376" width="8" height="8" fill="#9c9c9c"/><rect x="208" y="376" width="8" height="8" fill="#b1b1b1"/><rect x="216" y="376" width="64" height="8" fill="#f2f2f2"/><rect x="280" y="376" width="8" height="8" fill="#e4e4e4"/><rect x="296" y="376" width="8" height="8" fill="#f0f0f0"/><rect x="304" y="376" width="64" height="8" fill="#ffffff"/><rect x="368" y="376" width="8" height="8" fill="#bbbbbb"/><rect x="376" y="376" width="8" height="8" fill="#818181"/><rect x="384" y="376" width="72" height="8" fill="#f2f2f2"/><rect x="456" y="376" width="8" height="8" fill="#5c5c5c"/><rect x="464" y="376" width="8" height="8" fill="#c4c4c4"/><rect x="472" y="376" width="104" height="8" fill="#f2f2f2"/><rect x="576" y="376" width="8" height="8" fill="#9c9c9c"/><rect x="88" y="384" width="8" height="8" fill="#d5d5d5"/><rect x="96" y="384" width="104" height="8" fill="#f2f2f2"/><rect x="200" y="384" width="8" height="8" fill="#9c9c9c"/><rect x="208" y="384" width="8" height="8" fill="#b2b2b2"/><rect x="216" y="384" width="64" height="8" fill="#f2f2f2"/><rect x="280" y="384" width="8" height="8" fill="#e4e4e4"/><rect x="296" y="384" width="8" height="8" fill="#f0f0f0"/><rect x="304" y="384" width="64" height="8" fill="#ffffff"/><rect x="368" y="384" width="8" height="8" fill="#bcbcbc"/><rect x="376" y="384" width="8" height="8" fill="#828282"/><rect x="384" y="384" width="72" height="8" fill="#f2f2f2"/><rect x="456" y="384" width="8" height="8" fill="#5e5e5e"/><rect x="464" y="384" width="8" height="8" fill="#c4c4c4"/><rect x="472" y="384" width="104" height="8" fill="#f2f2f2"/><rect x="576" y="384" width="8" height="8" fill="#9c9c9c"/><rect x="88" y="392" width="8" height="8" fill="#d5d5d5"/><rect x="96" y="392" width="104" height="8" fill="#f2f2f2"/><rect x="200" y="392" width="8" height="8" fill="#9c9c9c"/><rect x="208" y="392" width="8" height="8" fill="#b2b2b2"/><rect x="216" y="392" width="64" height="8" fill="#f2f2f2"/><rect x="280" y="392" width="8" height="8" fill="#e4e4e4"/><rect x="296" y="392" width="8" height="8" fill="#f0f0f0"/><rect x="304" y="392" width="64" height="8" fill="#ffffff"/><rect x="368" y="392" width="8" height="8" fill="#bcbcbc"/><rect x="376" y="392" width="8" height="8" fill="#828282"/><rect x="384" y="392" width="72" height="8" fill="#f2f2f2"/><rect x="456" y="392" width="8" height="8" fill="#5e5e5e"/><rect x="464" y="392" width="8" height="8" fill="#c4c4c4"/><rect x="472" y="392" width="104" height="8" fill="#f2f2f2"/><rect x="576" y="392" width="8" height="8" fill="#9c9c9c"/><rect x="88" y="400" width="8" height="8" fill="#d5d5d5"/><rect x="96" y="400" width="104" height="8" fill="#f2f2f2"/><rect x="200" y="400" width="8" height="8" fill="#9c9c9c"/><rect x="208" y="400" width="8" height="8" fill="#b2b2b2"/><rect x="216" y="400" width="64" height="8" fill="#f2f2f2"/><rect x="280" y="400" width="8" height="8" fill="#e4e4e4"/><rect x="296" y="400" width="8" height="8" fill="#f0f0f0"/><rect x="304" y="400" width="64" height="8" fill="#ffffff"/><rect x="368" y="400" width="8" height="8" fill="#bcbcbc"/><rect x="376" y="400" width="8" height="8" fill="#828282"/><rect x="384" y="400" width="72" height="8" fill="#f2f2f2"/><rect x="456" y="400" width="8" height="8" fill="#5e5e5e"/><rect x="464" y="400" width="8" height="8" fill="#c4c4c4"/><rect x="472" y="400" width="104" height="8" fill="#f2f2f2"/><rect x="576" y="400" width="8" height="8" fill="#9c9c9c"/><rect x="88" y="408" width="8" height="8" fill="#d5d5d5"/><rect x="96" y="408" width="104" height="8" fill="#f2f2f2"/><rect x="200" y="408" width="8" height="8" fill="#9c9c9c"/><rect x="208" y="408" width="8" height="8" fill="#b2b2b2"/><rect x="216" y="408" width="64" height="8" fill="#f2f2f2"/><rect x="280" y="408" width="8" height="8" fill="#e4e4e4"/><rect x="296" y="408" width="8" height="8" fill="#f0f0f0"/><rect x="304" y="408" width="64" height="8" fill="#ffffff"/><rect x="368" y="408" width="8" height="8" fill="#bcbcbc"/><rect x="376" y="408" width="8" height="8" fill="#828282"/><rect x="384" y="408" width="72" height="8" fill="#f2f2f2"/><rect x="456" y="408" width="8" height="8" fill="#5e5e5e"/><rect x="464" y="408" width="8" height="8" fill="#c4c4c4"/><rect x="472" y="408" width="104" height="8" fill="#f2f2f2"/><rect x="576" y="408" width="8" height="8" fill="#9c9c9c"/><rect x="88" y="416" width="8" height="8" fill="#d4d4d4"/><rect x="96" y="416" width="104" height="8" fill="#f2f2f2"/><rect x="200" y="416" width="8" height="8" fill="#9b9b9b"/><rect x="208" y="416" width="8" height="8" fill="#b2b2b2"/><rect x="216" y="416" width="64" height="8" fill="#f2f2f2"/><rect x="280" y="416" width="8" height="8" fill="#e4e4e4"/><rect x="296" y="416" width="8" height="8" fill="#f0f0f0"/><rect x="304" y="416" width="64" height="8" fill="#ffffff"/><rect x="368" y="416" width="8" height="8" fill="#bcbcbc"/><rect x="376" y="416" width="8" height="8" fill="#828282"/><rect x="384" y="416" width="72" height="8" fill="#f2f2f2"/><rect x="456" y="416" width="8" height="8" fill="#5e5e5e"/><rect x="464" y="416" width="8" height="8" fill="#c3c3c3"/><rect x="472" y="416" width="104" height="8" fill="#f2f2f2"/><rect x="576" y="416" width="8" height="8" fill="#9b9b9b"/><rect x="88" y="424" width="8" height="8" fill="#858585"/><rect x="96" y="424" width="96" height="8" fill="#c4c4c4"/><rect x="192" y="424" width="8" height="8" fill="#bebebe"/><rect x="200" y="424" width="8" height="8" fill="#484848"/><rect x="208" y="424" width="8" height="8" fill="#b2b2b2"/><rect x="216" y="424" width="64" height="8" fill="#f2f2f2"/><rect x="280" y="424" width="8" height="8" fill="#e4e4e4"/><rect x="296" y="424" width="8" height="8" fill="#f0f0f0"/><rect x="304" y="424" width="64" height="8" fill="#ffffff"/><rect x="368" y="424" width="8" height="8" fill="#bcbcbc"/><rect x="376" y="424" width="8" height="8" fill="#828282"/><rect x="384" y="424" width="72" height="8" fill="#f2f2f2"/><rect x="456" y="424" width="8" height="8" fill="#5e5e5e"/><rect x="464" y="424" width="8" height="8" fill="#737373"/><rect x="472" y="424" width="8" height="8" fill="#c3c3c3"/><rect x="480" y="424" width="88" height="8" fill="#c4c4c4"/><rect x="568" y="424" width="8" height="8" fill="#bebebe"/><rect x="576" y="424" width="8" height="8" fill="#484848"/><rect x="208" y="432" width="8" height="8" fill="#b2b2b2"/><rect x="216" y="432" width="64" height="8" fill="#f2f2f2"/><rect x="280" y="432" width="8" height="8" fill="#e4e4e4"/><rect x="296" y="432" width="8" height="8" fill="#f0f0f0"/><rect x="304" y="432" width="64" height="8" fill="#ffffff"/><rect x="368" y="432" width="8" height="8" fill="#bcbcbc"/><rect x="376" y="432" width="8" height="8" fill="#828282"/><rect x="384" y="432" width="72" height="8" fill="#f2f2f2"/><rect x="456" y="432" width="8" height="8" fill="#5e5e5e"/><rect x="208" y="440" width="8" height="8" fill="#b2b2b2"/><rect x="216" y="440" width="64" height="8" fill="#f2f2f2"/><rect x="280" y="440" width="8" height="8" fill="#e4e4e4"/><rect x="296" y="440" width="8" height="8" fill="#f0f0f0"/><rect x="304" y="440" width="64" height="8" fill="#ffffff"/><rect x="368" y="440" width="8" height="8" fill="#bcbcbc"/><rect x="376" y="440" width="8" height="8" fill="#828282"/><rect x="384" y="440" width="72" height="8" fill="#f2f2f2"/><rect x="456" y="440" width="8" height="8" fill="#5e5e5e"/><rect x="208" y="448" width="8" height="8" fill="#b2b2b2"/><rect x="216" y="448" width="64" height="8" fill="#f2f2f2"/><rect x="280" y="448" width="8" height="8" fill="#e4e4e4"/><rect x="296" y="448" width="8" height="8" fill="#f0f0f0"/><rect x="304" y="448" width="64" height="8" fill="#ffffff"/><rect x="368" y="448" width="8" height="8" fill="#bcbcbc"/><rect x="376" y="448" width="8" height="8" fill="#828282"/><rect x="384" y="448" width="72" height="8" fill="#f2f2f2"/><rect x="456" y="448" width="8" height="8" fill="#5e5e5e"/><rect x="208" y="456" width="8" height="8" fill="#b2b2b2"/><rect x="216" y="456" width="64" height="8" fill="#f2f2f2"/><rect x="280" y="456" width="8" height="8" fill="#e4e4e4"/><rect x="296" y="456" width="8" height="8" fill="#f0f0f0"/><rect x="304" y="456" width="64" height="8" fill="#ffffff"/><rect x="368" y="456" width="8" height="8" fill="#bcbcbc"/><rect x="376" y="456" width="8" height="8" fill="#828282"/><rect x="384" y="456" width="72" height="8" fill="#f2f2f2"/><rect x="456" y="456" width="8" height="8" fill="#5e5e5e"/><rect x="208" y="464" width="8" height="8" fill="#b2b2b2"/><rect x="216" y="464" width="64" height="8" fill="#f2f2f2"/><rect x="280" y="464" width="8" height="8" fill="#e4e4e4"/><rect x="296" y="464" width="8" height="8" fill="#f0f0f0"/><rect x="304" y="464" width="64" height="8" fill="#ffffff"/><rect x="368" y="464" width="8" height="8" fill="#bcbcbc"/><rect x="376" y="464" width="8" height="8" fill="#828282"/><rect x="384" y="464" width="72" height="8" fill="#f2f2f2"/><rect x="456" y="464" width="8" height="8" fill="#5e5e5e"/><rect x="208" y="472" width="8" height="8" fill="#aeaeae"/><rect x="216" y="472" width="64" height="8" fill="#f2f2f2"/><rect x="280" y="472" width="8" height="8" fill="#e1e1e1"/><rect x="296" y="472" width="8" height="8" fill="#ededed"/><rect x="304" y="472" width="64" height="8" fill="#ffffff"/><rect x="368" y="472" width="8" height="8" fill="#b7b7b7"/><rect x="376" y="472" width="8" height="8" fill="#7c7c7c"/><rect x="384" y="472" width="72" height="8" fill="#f2f2f2"/><rect x="456" y="472" width="8" height="8" fill="#555555"/><rect x="208" y="480" width="8" height="8" fill="#414141"/><rect x="216" y="480" width="8" height="8" fill="#9a9a9a"/><rect x="224" y="480" width="56" height="8" fill="#9c9c9c"/><rect x="280" y="480" width="8" height="8" fill="#727272"/><rect x="296" y="480" width="8" height="8" fill="#797979"/><rect x="304" y="480" width="56" height="8" fill="#a5a5a5"/><rect x="360" y="480" width="8" height="8" fill="#a3a3a3"/><rect x="368" y="480" width="8" height="8" fill="#454545"/><rect x="376" y="480" width="8" height="8" fill="#101010"/><rect x="384" y="480" width="8" height="8" fill="#929292"/><rect x="392" y="480" width="56" height="8" fill="#9c9c9c"/><rect x="448" y="480" width="8" height="8" fill="#898989"/><rect x="128" y="488" width="8" height="8" fill="#7e7e7e"/><rect x="136" y="488" width="56" height="8" fill="#8f8f8f"/><rect x="192" y="488" width="8" height="8" fill="#868686"/><rect x="200" y="488" width="8" height="8" fill="#0e0e0e"/><rect x="208" y="488" width="8" height="8" fill="#414141"/><rect x="216" y="488" width="8" height="8" fill="#9a9a9a"/><rect x="224" y="488" width="56" height="8" fill="#9c9c9c"/><rect x="280" y="488" width="8" height="8" fill="#727272"/><rect x="296" y="488" width="8" height="8" fill="#727272"/><rect x="304" y="488" width="56" height="8" fill="#9c9c9c"/><rect x="360" y="488" width="8" height="8" fill="#9a9a9a"/><rect x="368" y="488" width="8" height="8" fill="#414141"/><rect x="376" y="488" width="8" height="8" fill="#101010"/><rect x="384" y="488" width="8" height="8" fill="#929292"/><rect x="392" y="488" width="56" height="8" fill="#9c9c9c"/><rect x="448" y="488" width="8" height="8" fill="#898989"/><rect x="120" y="496" width="8" height="8" fill="#4d4d4d"/><rect x="128" y="496" width="72" height="8" fill="#dfdfdf"/><rect x="200" y="496" width="8" height="8" fill="#717171"/><rect x="208" y="496" width="8" height="8" fill="#aeaeae"/><rect x="216" y="496" width="64" height="8" fill="#f2f2f2"/><rect x="280" y="496" width="8" height="8" fill="#e1e1e1"/><rect x="296" y="496" width="8" height="8" fill="#e1e1e1"/><rect x="304" y="496" width="64" height="8" fill="#f2f2f2"/><rect x="368" y="496" width="8" height="8" fill="#aeaeae"/><rect x="376" y="496" width="8" height="8" fill="#7c7c7c"/><rect x="384" y="496" width="72" height="8" fill="#f2f2f2"/><rect x="456" y="496" width="8" height="8" fill="#555555"/><rect x="120" y="504" width="8" height="8" fill="#565656"/><rect x="128" y="504" width="72" height="8" fill="#dfdfdf"/><rect x="200" y="504" width="8" height="8" fill="#777777"/><rect x="208" y="504" width="8" height="8" fill="#b2b2b2"/><rect x="216" y="504" width="64" height="8" fill="#f2f2f2"/><rect x="280" y="504" width="8" height="8" fill="#e4e4e4"/><rect x="296" y="504" width="8" height="8" fill="#e4e4e4"/><rect x="304" y="504" width="64" height="8" fill="#f2f2f2"/><rect x="368" y="504" width="8" height="8" fill="#b2b2b2"/><rect x="376" y="504" width="8" height="8" fill="#828282"/><rect x="384" y="504" width="72" height="8" fill="#f2f2f2"/><rect x="456" y="504" width="8" height="8" fill="#5e5e5e"/><rect x="120" y="512" width="8" height="8" fill="#565656"/><rect x="128" y="512" width="72" height="8" fill="#dfdfdf"/><rect x="200" y="512" width="8" height="8" fill="#777777"/><rect x="208" y="512" width="8" height="8" fill="#b2b2b2"/><rect x="216" y="512" width="64" height="8" fill="#f2f2f2"/><rect x="280" y="512" width="8" height="8" fill="#e4e4e4"/><rect x="296" y="512" width="8" height="8" fill="#e4e4e4"/><rect x="304" y="512" width="64" height="8" fill="#f2f2f2"/><rect x="368" y="512" width="8" height="8" fill="#b2b2b2"/><rect x="376" y="512" width="8" height="8" fill="#828282"/><rect x="384" y="512" width="72" height="8" fill="#f2f2f2"/><rect x="456" y="512" width="8" height="8" fill="#5e5e5e"/><rect x="120" y="520" width="8" height="8" fill="#565656"/><rect x="128" y="520" width="72" height="8" fill="#dfdfdf"/><rect x="200" y="520" width="8" height="8" fill="#777777"/><rect x="208" y="520" width="8" height="8" fill="#b2b2b2"/><rect x="216" y="520" width="64" height="8" fill="#f2f2f2"/><rect x="280" y="520" width="8" height="8" fill="#e4e4e4"/><rect x="296" y="520" width="8" height="8" fill="#e4e4e4"/><rect x="304" y="520" width="64" height="8" fill="#f2f2f2"/><rect x="368" y="520" width="8" height="8" fill="#b2b2b2"/><rect x="376" y="520" width="8" height="8" fill="#828282"/><rect x="384" y="520" width="72" height="8" fill="#f2f2f2"/><rect x="456" y="520" width="8" height="8" fill="#5e5e5e"/><rect x="120" y="528" width="8" height="8" fill="#565656"/><rect x="128" y="528" width="72" height="8" fill="#dfdfdf"/><rect x="200" y="528" width="8" height="8" fill="#777777"/><rect x="208" y="528" width="8" height="8" fill="#b2b2b2"/><rect x="216" y="528" width="64" height="8" fill="#f2f2f2"/><rect x="280" y="528" width="8" height="8" fill="#e4e4e4"/><rect x="296" y="528" width="8" height="8" fill="#e4e4e4"/><rect x="304" y="528" width="64" height="8" fill="#f2f2f2"/><rect x="368" y="528" width="8" height="8" fill="#b2b2b2"/><rect x="376" y="528" width="8" height="8" fill="#828282"/><rect x="384" y="528" width="72" height="8" fill="#f2f2f2"/><rect x="456" y="528" width="8" height="8" fill="#5e5e5e"/><rect x="120" y="536" width="8" height="8" fill="#565656"/><rect x="128" y="536" width="72" height="8" fill="#dfdfdf"/><rect x="200" y="536" width="8" height="8" fill="#777777"/><rect x="208" y="536" width="8" height="8" fill="#b2b2b2"/><rect x="216" y="536" width="64" height="8" fill="#f2f2f2"/><rect x="280" y="536" width="8" height="8" fill="#e4e4e4"/><rect x="296" y="536" width="8" height="8" fill="#e4e4e4"/><rect x="304" y="536" width="64" height="8" fill="#f2f2f2"/><rect x="368" y="536" width="8" height="8" fill="#b2b2b2"/><rect x="376" y="536" width="8" height="8" fill="#828282"/><rect x="384" y="536" width="72" height="8" fill="#f2f2f2"/><rect x="456" y="536" width="8" height="8" fill="#5e5e5e"/><rect x="120" y="544" width="8" height="8" fill="#565656"/><rect x="128" y="544" width="72" height="8" fill="#dfdfdf"/><rect x="200" y="544" width="8" height="8" fill="#777777"/><rect x="208" y="544" width="8" height="8" fill="#b2b2b2"/><rect x="216" y="544" width="64" height="8" fill="#f2f2f2"/><rect x="280" y="544" width="8" height="8" fill="#e4e4e4"/><rect x="296" y="544" width="8" height="8" fill="#e4e4e4"/><rect x="304" y="544" width="64" height="8" fill="#f2f2f2"/><rect x="368" y="544" width="8" height="8" fill="#b2b2b2"/><rect x="376" y="544" width="8" height="8" fill="#828282"/><rect x="384" y="544" width="72" height="8" fill="#f2f2f2"/><rect x="456" y="544" width="8" height="8" fill="#5e5e5e"/><rect x="120" y="552" width="8" height="8" fill="#565656"/><rect x="128" y="552" width="72" height="8" fill="#dfdfdf"/><rect x="200" y="552" width="8" height="8" fill="#777777"/><rect x="208" y="552" width="8" height="8" fill="#b2b2b2"/><rect x="216" y="552" width="64" height="8" fill="#f2f2f2"/><rect x="280" y="552" width="8" height="8" fill="#e4e4e4"/><rect x="296" y="552" width="8" height="8" fill="#e4e4e4"/><rect x="304" y="552" width="64" height="8" fill="#f2f2f2"/><rect x="368" y="552" width="8" height="8" fill="#b2b2b2"/><rect x="376" y="552" width="8" height="8" fill="#828282"/><rect x="384" y="552" width="72" height="8" fill="#f2f2f2"/><rect x="456" y="552" width="8" height="8" fill="#5e5e5e"/><rect x="120" y="560" width="8" height="8" fill="#565656"/><rect x="128" y="560" width="72" height="8" fill="#dfdfdf"/><rect x="200" y="560" width="8" height="8" fill="#777777"/><rect x="208" y="560" width="8" height="8" fill="#b2b2b2"/><rect x="216" y="560" width="64" height="8" fill="#f2f2f2"/><rect x="280" y="560" width="8" height="8" fill="#e4e4e4"/><rect x="296" y="560" width="8" height="8" fill="#e4e4e4"/><rect x="304" y="560" width="64" height="8" fill="#f2f2f2"/><rect x="368" y="560" width="8" height="8" fill="#b2b2b2"/><rect x="376" y="560" width="8" height="8" fill="#828282"/><rect x="384" y="560" width="72" height="8" fill="#f2f2f2"/><rect x="456" y="560" width="8" height="8" fill="#5e5e5e"/><rect x="120" y="568" width="8" height="8" fill="#565656"/><rect x="128" y="568" width="72" height="8" fill="#dfdfdf"/><rect x="200" y="568" width="8" height="8" fill="#777777"/><rect x="208" y="568" width="8" height="8" fill="#b2b2b2"/><rect x="216" y="568" width="64" height="8" fill="#f2f2f2"/><rect x="280" y="568" width="8" height="8" fill="#e4e4e4"/><rect x="296" y="568" width="8" height="8" fill="#e4e4e4"/><rect x="304" y="568" width="64" height="8" fill="#f2f2f2"/><rect x="368" y="568" width="8" height="8" fill="#b2b2b2"/><rect x="376" y="568" width="8" height="8" fill="#828282"/><rect x="384" y="568" width="72" height="8" fill="#f2f2f2"/><rect x="456" y="568" width="8" height="8" fill="#5e5e5e"/><rect x="120" y="576" width="8" height="8" fill="#565656"/><rect x="128" y="576" width="72" height="8" fill="#dfdfdf"/><rect x="200" y="576" width="8" height="8" fill="#777777"/><rect x="208" y="576" width="8" height="8" fill="#b2b2b2"/><rect x="216" y="576" width="64" height="8" fill="#f2f2f2"/><rect x="280" y="576" width="8" height="8" fill="#e4e4e4"/><rect x="296" y="576" width="8" height="8" fill="#e4e4e4"/><rect x="304" y="576" width="64" height="8" fill="#f2f2f2"/><rect x="368" y="576" width="8" height="8" fill="#b2b2b2"/><rect x="376" y="576" width="8" height="8" fill="#828282"/><rect x="384" y="576" width="72" height="8" fill="#f2f2f2"/><rect x="456" y="576" width="8" height="8" fill="#5e5e5e"/><rect x="120" y="584" width="8" height="8" fill="#565656"/><rect x="128" y="584" width="72" height="8" fill="#dfdfdf"/><rect x="200" y="584" width="8" height="8" fill="#777777"/><rect x="208" y="584" width="8" height="8" fill="#b2b2b2"/><rect x="216" y="584" width="64" height="8" fill="#f2f2f2"/><rect x="280" y="584" width="8" height="8" fill="#e4e4e4"/><rect x="296" y="584" width="8" height="8" fill="#e4e4e4"/><rect x="304" y="584" width="64" height="8" fill="#f2f2f2"/><rect x="368" y="584" width="8" height="8" fill="#b2b2b2"/><rect x="376" y="584" width="8" height="8" fill="#828282"/><rect x="384" y="584" width="72" height="8" fill="#f2f2f2"/><rect x="456" y="584" width="8" height="8" fill="#5e5e5e"/><rect x="120" y="592" width="8" height="8" fill="#525252"/><rect x="128" y="592" width="72" height="8" fill="#dfdfdf"/><rect x="200" y="592" width="8" height="8" fill="#757575"/><rect x="208" y="592" width="8" height="8" fill="#b1b1b1"/><rect x="216" y="592" width="64" height="8" fill="#f2f2f2"/><rect x="280" y="592" width="8" height="8" fill="#e4e4e4"/><rect x="296" y="592" width="8" height="8" fill="#e4e4e4"/><rect x="304" y="592" width="64" height="8" fill="#f2f2f2"/><rect x="368" y="592" width="8" height="8" fill="#b1b1b1"/><rect x="376" y="592" width="8" height="8" fill="#818181"/><rect x="384" y="592" width="72" height="8" fill="#f2f2f2"/><rect x="456" y="592" width="8" height="8" fill="#5c5c5c"/><rect x="120" y="600" width="8" height="8" fill="#050505"/><rect x="128" y="600" width="8" height="8" fill="#959595"/><rect x="136" y="600" width="56" height="8" fill="#a3a3a3"/><rect x="192" y="600" width="8" height="8" fill="#9c9c9c"/><rect x="200" y="600" width="8" height="8" fill="#232323"/><rect x="208" y="600" width="8" height="8" fill="#6a6a6a"/><rect x="216" y="600" width="8" height="8" fill="#c3c3c3"/><rect x="224" y="600" width="56" height="8" fill="#c4c4c4"/><rect x="280" y="600" width="8" height="8" fill="#9e9e9e"/><rect x="296" y="600" width="8" height="8" fill="#9e9e9e"/><rect x="304" y="600" width="56" height="8" fill="#c4c4c4"/><rect x="360" y="600" width="8" height="8" fill="#c3c3c3"/><rect x="368" y="600" width="8" height="8" fill="#6a6a6a"/><rect x="376" y="600" width="8" height="8" fill="#393939"/><rect x="384" y="600" width="8" height="8" fill="#bdbdbd"/><rect x="392" y="600" width="56" height="8" fill="#c4c4c4"/><rect x="448" y="600" width="8" height="8" fill="#b7b7b7"/><rect x="456" y="600" width="8" height="8" fill="#191919"/></svg>
<div class="c" style="left:211px;top:4px;width:77px;height:114px;background:#daf7ff"><span>Player 3<br>Low</span></div>
<div class="c" style="left:296px;top:4px;width:77px;height:114px;background:#daf7ff"><span>Player 3<br>Mid</span></div>
<div class="c" style="left:381px;top:4px;width:77px;height:114px;background:#ffffff"><span style="position:relative;top:-10px"><svg class="one" viewBox="0 0 1139 1480"><path d="M763 1480L583 1480L583 333Q518 395 412 457Q306 519 222 550L222 376Q373 305 486 204Q599 103 646 8L763 8Z"/></svg><svg class="one" viewBox="0 0 1139 1480"><path d="M763 1480L583 1480L583 333Q518 395 412 457Q306 519 222 550L222 376Q373 305 486 204Q599 103 646 8L763 8Z"/></svg></span></div>
<div class="c" style="left:466px;top:4px;width:77px;height:114px;background:#ffd4de"><span style="position:relative;top:-8px">8</span></div>
<div class="c" style="left:211px;top:126px;width:77px;height:114px;background:#daf7ff"><span>Matrix<br>Top<br>Left</span></div>
<div class="c" style="left:296px;top:126px;width:77px;height:114px;background:#daf7ff"><span>Matrix<br>Top<br>Center</span></div>
<div class="c" style="left:381px;top:126px;width:77px;height:114px;background:#daf7ff"><span style="position:relative;top:-2px">Matrix<br>Top<br>Right</span></div>
<div class="c" style="left:211px;top:248px;width:77px;height:114px;background:#daf7ff"><span>Matrix<br>Middle<br>Left</span></div>
<div class="c" style="left:296px;top:248px;width:77px;height:114px;background:#daf7ff"><span>Matrix<br>Middle<br>Center</span></div>
<div class="c" style="left:381px;top:248px;width:77px;height:114px;background:#daf7ff"><span style="position:relative;top:-2px">Matrix<br>Middle<br>Right</span></div>
<div class="c" style="left:211px;top:370px;width:77px;height:114px;background:#daf7ff"><span>Matrix<br>Bottom<br>Left</span></div>
<div class="c" style="left:296px;top:370px;width:77px;height:114px;background:#ffffff"><span style="position:relative;top:-17px">9</span></div>
<div class="c" style="left:381px;top:370px;width:77px;height:114px;background:#daf7ff"><span style="position:relative;top:-2px">Matrix<br>Bottom<br>Right</span></div>
<div class="c" style="left:126px;top:492px;width:77px;height:113px;background:#ffd4de"><span style="position:relative;top:-8px"><svg class="one" viewBox="0 0 1139 1480"><path d="M763 1480L583 1480L583 333Q518 395 412 457Q306 519 222 550L222 376Q373 305 486 204Q599 103 646 8L763 8Z"/></svg></span></div>
<div class="c" style="left:211px;top:492px;width:77px;height:114px;background:#daf7ff"><span>Player <svg class="one" viewBox="0 0 1139 1480"><path d="M763 1480L583 1480L583 333Q518 395 412 457Q306 519 222 550L222 376Q373 305 486 204Q599 103 646 8L763 8Z"/></svg><br>Low</span></div>
<div class="c" style="left:296px;top:492px;width:77px;height:114px;background:#daf7ff"><span>Player <svg class="one" viewBox="0 0 1139 1480"><path d="M763 1480L583 1480L583 333Q518 395 412 457Q306 519 222 550L222 376Q373 305 486 204Q599 103 646 8L763 8Z"/></svg><br>Mid</span></div>
<div class="c" style="left:381px;top:492px;width:77px;height:114px;background:#daf7ff"><span style="position:relative;top:-1.5px">Player <svg class="one" viewBox="0 0 1139 1480"><path d="M763 1480L583 1480L583 333Q518 395 412 457Q306 519 222 550L222 376Q373 305 486 204Q599 103 646 8L763 8Z"/></svg><br>High</span></div>
<div class="c" style="left:108px;top:163px;width:76px;height:114px;background:#daf7ff;transform:rotate(90deg)"><span>Player 2<br>Low</span></div>
<div class="c" style="left:108px;top:248px;width:76px;height:114px;background:#daf7ff;transform:rotate(90deg)"><span>Player 2<br>Mid</span></div>
<div class="c" style="left:108px;top:333px;width:76px;height:114px;background:#daf7ff;transform:rotate(90deg)"><span style="position:relative;top:-1.5px">Player 2<br>High</span></div>
<div class="c" style="left:485px;top:163px;width:76px;height:114px;background:#daf7ff;transform:rotate(-90deg)"><span style="position:relative;top:-1.5px">Player 4<br>High</span></div>
<div class="c" style="left:485px;top:248px;width:76px;height:114px;background:#daf7ff;transform:rotate(-90deg)"><span>Player 4<br>Mid</span></div>
<div class="c" style="left:485px;top:333px;width:76px;height:114px;background:#daf7ff;transform:rotate(-90deg)"><span>Player 4<br>Low</span></div></body></html>
